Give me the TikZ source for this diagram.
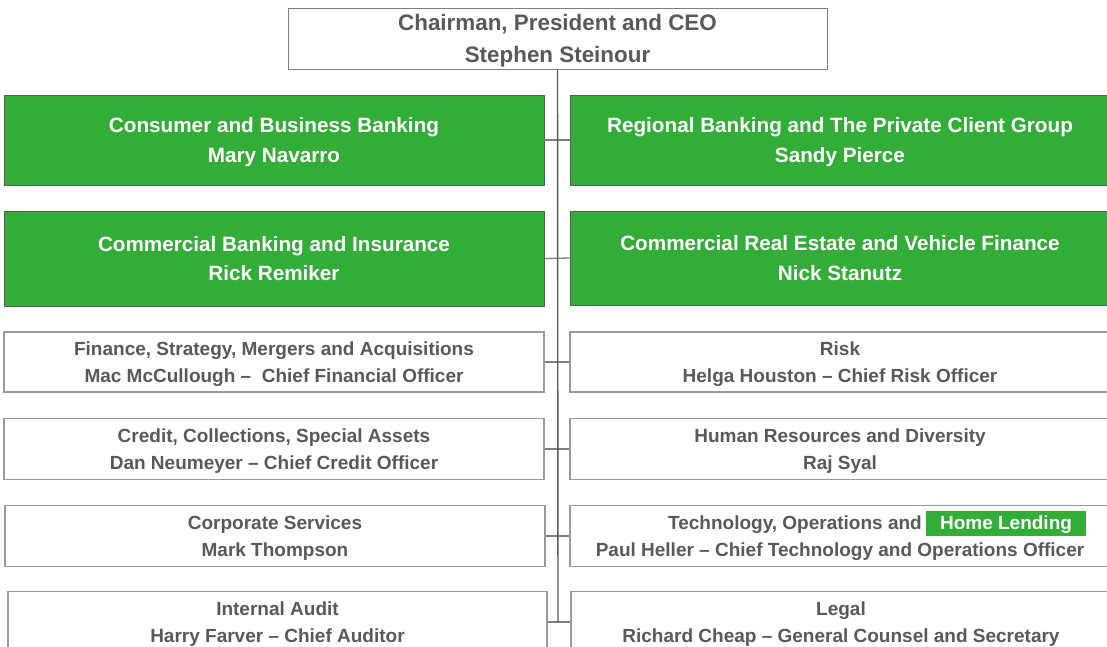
\documentclass[tikz,border=0pt]{standalone}
\usepackage{fontspec}
\setmainfont{Liberation Sans}
\definecolor{txt}{HTML}{595959}
\definecolor{grn}{HTML}{32AD37}
\definecolor{ln}{HTML}{7F7F7F}
\definecolor{bd}{HTML}{9A9A9A}
\definecolor{gbd}{HTML}{5A5A5A}
\begin{document}
\begin{tikzpicture}[x=1pt,y=-1pt,
  gbox/.style={draw=gbd, fill=grn, line width=0.8pt, text=white,
    font=\bfseries\fontsize{20.7}{29.5}\selectfont, align=center,
    inner sep=0pt, minimum width=540pt, text depth=0pt},
  wbox/.style={draw=bd, fill=white, line width=1.2pt, text=txt,
    font=\bfseries\fontsize{19}{27}\selectfont, align=center,
    inner sep=0pt, minimum width=540pt, text depth=0pt},
  conn/.style={draw=ln, line width=1.3pt},
  spine/.style={draw=txt, line width=1.4pt}]
\clip (0,0) rectangle (1107,646);
\fill[white] (0,0) rectangle (1107,646);

% top
\node[wbox, draw=ln, line width=1pt, font=\bfseries\fontsize{22.4}{32}\selectfont,
  minimum width=539pt, minimum height=61pt] (ceo) at (557.5,38.5)
  {Chairman, President and CEO\\Stephen Steinour};

% row 1
\node[gbox, minimum height=90pt] (cbb) at (274,140)
  {Consumer and Business Banking\\Mary Navarro};
\node[gbox, minimum height=90pt] (rbp) at (840,140)
  {Regional Banking and The Private Client Group\\Sandy Pierce};
% row 2
\node[gbox, minimum height=95pt] (cbi) at (274,258.5)
  {Commercial Banking and Insurance\\Rick Remiker};
\node[gbox, minimum height=94pt] (cre) at (840,258)
  {Commercial Real Estate and Vehicle Finance\\Nick Stanutz};
% row 3
\node[wbox, minimum height=60pt] (fin) at (274,362)
  {Finance, Strategy, Mergers and Acquisitions\\Mac McCullough –\ \ Chief Financial Officer};
\node[wbox, minimum height=60pt] (risk) at (840,362)
  {Risk\\Helga Houston – Chief Risk Officer};
% row 4
\node[wbox, minimum height=61pt] (cred) at (274,449)
  {Credit, Collections, Special Assets\\Dan Neumeyer – Chief Credit Officer};
\node[wbox, minimum height=61pt] (hr) at (840,449)
  {Human Resources and Diversity\\Raj Syal};
% row 5
\node[wbox, minimum height=61pt] (corp) at (275,536)
  {Corporate Services\\Mark Thompson};
\node[wbox, minimum height=61pt] (tech) at (840,536)
  {\vphantom{Th}\\Paul Heller – Chief Technology and Operations Officer};
\node[anchor=base east, text=txt, font=\bfseries\fontsize{19}{27}\selectfont,
  inner sep=0pt] (techl) at (922,529.5) {Technology, Operations and};
\node[fill=grn, text=white, font=\bfseries\fontsize{19}{27}\selectfont,
  inner sep=0pt, text depth=0pt, minimum width=160pt, minimum height=25pt] (hl) at (1006,523)
  {Home Lending};
% row 6
\node[wbox, minimum width=539pt, minimum height=61pt] (audit) at (277.5,622)
  {Internal Audit\\Harry Farver – Chief Auditor};
\node[wbox, minimum height=61pt] (legal) at (841,622)
  {Legal\\Richard Cheap – General Counsel and Secretary};

% connectors
\coordinate (spineend) at (558,622);
\draw[conn] (cbb.east) -- (rbp.west);
\draw[conn] (cbi.east) -- (cre.west);
\draw[conn] (fin.east) -- (risk.west);
\draw[conn] (cred.east) -- (hr.west);
\draw[conn] (corp.east) -- (tech.west);
\draw[conn] (audit.east) -- (legal.west);
\draw[spine] (ceo.south) -- (spineend);
\end{tikzpicture}
\end{document}
